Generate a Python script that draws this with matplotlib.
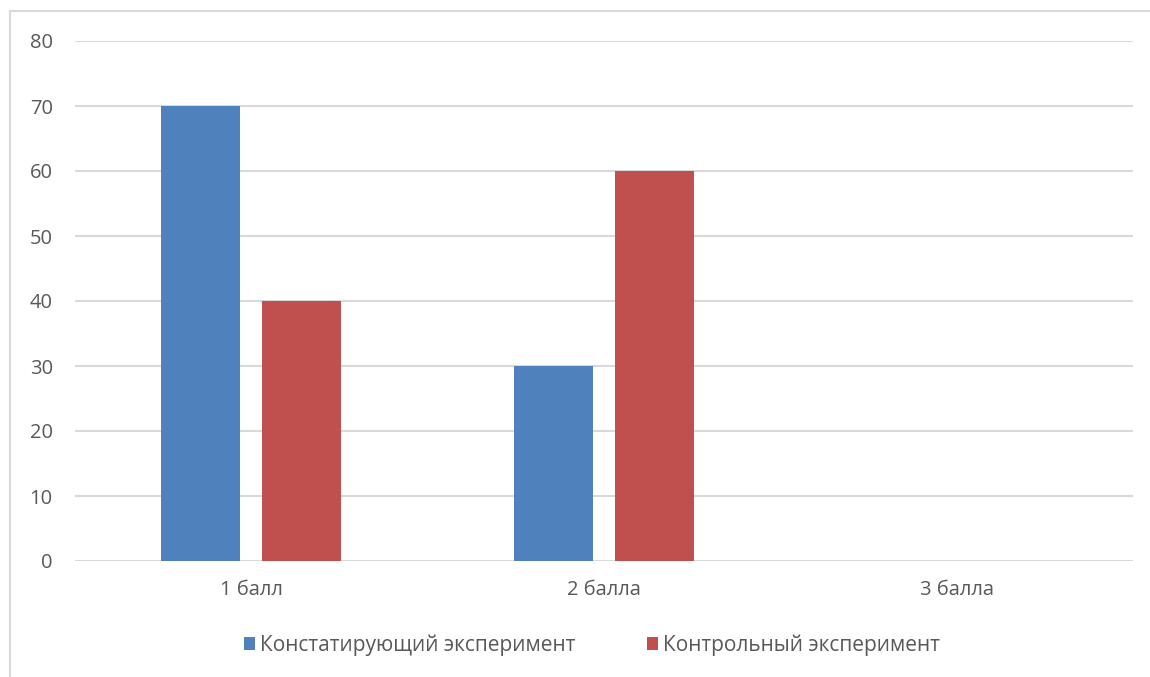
import numpy as np
import matplotlib.pyplot as plt
from matplotlib.lines import Line2D

categories = ['1 балл', '2 балла', '3 балла']
konst = [70, 30, 0]
kontr = [40, 60, 0]
series_names = ['Констатирующий эксперимент', 'Контрольный эксперимент']
yticks = [0, 10, 20, 30, 40, 50, 60, 70, 80]

plt.rcParams['font.family'] = ['Open Sans', 'DejaVu Sans']

W, H = 1150, 677
fig = plt.figure(figsize=(W / 100, H / 100), dpi=100)
ax = fig.add_axes([75 / W, 1 - 561 / H, (1133 - 75) / W, (561 - 41) / H])

x = np.arange(len(categories))
width = 0.224
ax.bar(x - 0.143, konst, width, color='#4F81BD', label=series_names[0], zorder=3)
ax.bar(x + 0.143, kontr, width, color='#C0504D', label=series_names[1], zorder=3)

ax.set_xlim(-0.5, len(categories) - 0.5)
ax.set_ylim(0, 80)
ax.set_yticks(yticks)
ax.set_xticks(x)
ax.set_xticklabels(categories)
ax.yaxis.grid(True, color='#d9d9d9', linewidth=1.5, zorder=0)
for s in ax.spines.values():
    s.set_visible(False)
ax.tick_params(axis='both', length=0, labelsize=14.5, colors='#595959')
ax.tick_params(axis='y', pad=16)
ax.tick_params(axis='x', pad=14)

fig.legend(loc='center', bbox_to_anchor=(592 / W, 1 - 645 / H), ncol=2, frameon=False,
           fontsize=15, labelcolor='#595959', handlelength=0.55, handleheight=0.55,
           handletextpad=0.25, columnspacing=3.4)

# chart frame (left and top edges)
fig.add_artist(Line2D([10 / W, 10 / W], [0, 1 - 11 / H], color='#d9d9d9', linewidth=1.5))
fig.add_artist(Line2D([10 / W, 1], [1 - 11 / H, 1 - 11 / H], color='#d9d9d9', linewidth=1.5))

fig.savefig('out.png', dpi=100, facecolor='white')
